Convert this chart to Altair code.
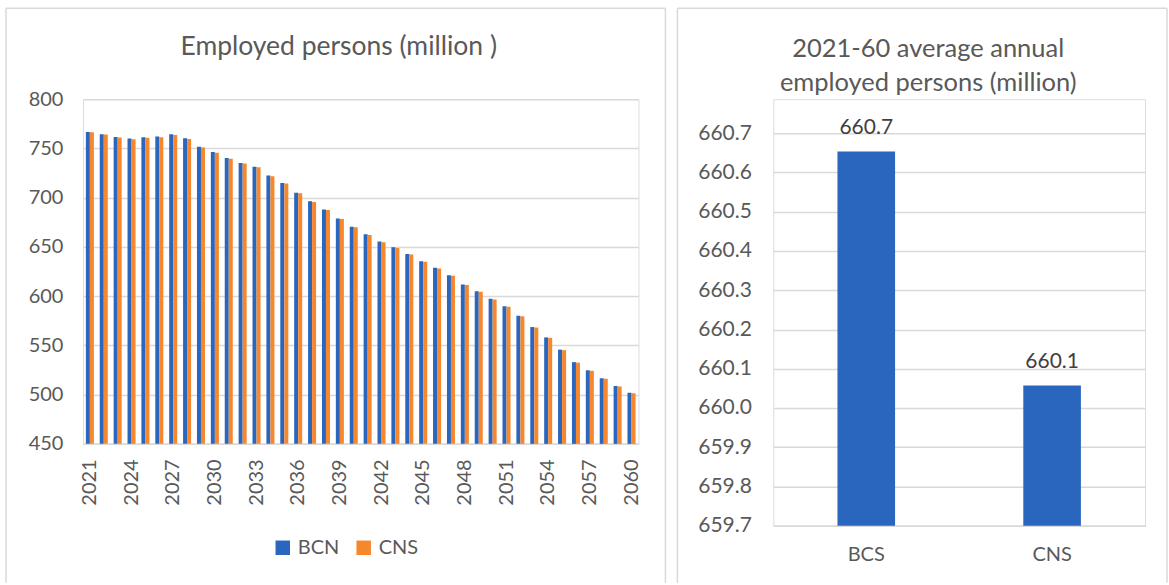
import altair as alt
import pandas as pd

# Employed persons per year, two projections (million)
years = list(range(2021, 2061))
bcn = [766.7, 764.4, 761.7, 760.0, 761.4, 762.0, 764.4, 760.4, 751.6, 746.3,
       740.2, 735.2, 731.5, 722.4, 715.0, 705.0, 696.3, 688.0, 678.8, 670.5,
       662.8, 655.4, 649.6, 642.9, 635.4, 628.7, 621.2, 611.8, 605.0, 597.3,
       589.8, 580.0, 568.6, 558.1, 545.7, 533.0, 524.7, 516.6, 508.8, 501.9]
cns = [766.4, 764.0, 761.2, 759.4, 760.7, 761.3, 763.6, 759.6, 750.9, 745.6,
       739.5, 734.6, 730.9, 721.7, 714.3, 704.4, 695.7, 687.4, 678.2, 669.9,
       662.2, 654.8, 649.0, 642.3, 634.8, 628.1, 620.6, 611.2, 604.4, 596.7,
       589.3, 579.5, 568.1, 557.6, 545.2, 532.5, 524.2, 516.1, 508.3, 501.4]
series_names = ["BCN", "CNS"]
year_ticks = list(range(2021, 2061, 3))

# 2021-60 average annual employed persons (million)
avg_labels = ["BCS", "CNS"]
avg_values = [660.653, 660.057]

left_title = "Employed persons (million )"
right_title = ["2021-60 average annual", "employed persons (million)"]

BLUE = "#2A65BE"
ORANGE = "#F7872D"
GRID = "#D9D9D9"
TEXT = "#595959"
FONT = "Lato"

yearly = pd.DataFrame({
    "year": years * 2,
    "series": ["BCN"] * len(years) + ["CNS"] * len(years),
    "value": bcn + cns,
})
averages = pd.DataFrame({"scenario": avg_labels, "value": avg_values})
frame = alt.Data(values=[{}])

TOP, BOTTOM = -91, 484


def panel_frame(x0, x1):
    """Open outline (top, left, right edges) around a panel, relative to its plot area."""
    style = dict(color=GRID, strokeWidth=1.5)
    top = alt.Chart(frame).mark_rule(**style).encode(
        x=alt.value(x0), x2=alt.value(x1), y=alt.value(TOP))
    left_edge = alt.Chart(frame).mark_rule(**style).encode(
        x=alt.value(x0), y=alt.value(TOP), y2=alt.value(BOTTOM))
    right_edge = alt.Chart(frame).mark_rule(**style).encode(
        x=alt.value(x1), y=alt.value(TOP), y2=alt.value(BOTTOM))
    return [top, left_edge, right_edge]


def heading(text, x, y, size):
    return alt.Chart(frame).mark_text(
        text=text, fontSize=size, font=FONT, color=TEXT, align="center", baseline="middle"
    ).encode(x=alt.value(x), y=alt.value(y))


# ---- left panel: yearly grouped bars ----
left_w, left_h = 556, 345
left_bars = alt.Chart(yearly).mark_bar(size=4).encode(
    x=alt.X("year:O", title=None,
            scale=alt.Scale(paddingInner=0.42, paddingOuter=0.21),
            axis=alt.Axis(values=year_ticks, labelAngle=270, labelAlign="right",
                          labelBaseline="middle", labelFontSize=20, labelColor=TEXT,
                          labelFont=FONT, labelPadding=15, ticks=False,
                          domainColor=GRID, domainWidth=1.5, grid=False)),
    xOffset=alt.XOffset("series:N", scale=alt.Scale(domain=series_names, paddingInner=0, paddingOuter=0)),
    y=alt.Y("value:Q", title=None,
            scale=alt.Scale(domain=[450, 800], zero=False, nice=False),
            axis=alt.Axis(values=list(range(450, 801, 50)), labelFontSize=20,
                          labelColor=TEXT, labelFont=FONT, labelPadding=20,
                          ticks=False, domain=False, gridColor=GRID, gridWidth=1.5)),
    y2=alt.Y2(datum=450),
    color=alt.Color("series:N", title=None,
                    scale=alt.Scale(domain=series_names, range=[BLUE, ORANGE]),
                    legend=alt.Legend(orient="none", legendX=190, legendY=439,
                                      direction="horizontal", symbolType="square",
                                      symbolSize=210, symbolStrokeWidth=0,
                                      labelFontSize=20, labelColor=TEXT, labelFont=FONT,
                                      columnPadding=14, labelOffset=5)),
)
left = alt.layer(
    *panel_frame(-77, 583), heading(left_title, 256, -52, 26.5), left_bars
).properties(width=left_w, height=left_h)

# ---- right panel: averages ----
right_w, right_h = 372, 427
yscale = alt.Scale(domain=[659.7, 660.7], range=[right_h, 34], zero=False, nice=False)
right_base = alt.Chart(averages).encode(
    x=alt.X("scenario:N", title=None, sort=avg_labels,
            scale=alt.Scale(paddingInner=0.69, paddingOuter=0.345),
            axis=alt.Axis(labelAngle=0, labelFontSize=20, labelColor=TEXT,
                          labelFont=FONT, labelPadding=19, ticks=False,
                          domainColor=GRID, domainWidth=1.5)),
)
right_bars = right_base.mark_bar(color=BLUE).encode(
    y=alt.Y("value:Q", title=None, scale=yscale,
            axis=alt.Axis(values=[round(659.7 + 0.1 * i, 1) for i in range(11)],
                          format=".1f", labelFontSize=21, labelColor=TEXT,
                          labelFont=FONT, labelPadding=22, ticks=False,
                          domain=False, gridColor=GRID, gridWidth=1.5)),
    y2=alt.Y2(datum=659.7),
)
right_text = right_base.mark_text(baseline="bottom", dy=-14, fontSize=21,
                                  font=FONT, color="#404040").encode(
    y=alt.Y("value:Q", scale=yscale),
    text=alt.Text("value:Q", format=".1f"),
)
right = alt.layer(
    *panel_frame(-96, 394),
    heading(right_title[0], 155, -50, 25.5),
    heading(right_title[1], 155, -16, 25.5),
    right_bars, right_text,
).properties(width=right_w, height=right_h)

chart = alt.hconcat(left, right, spacing=135, bounds="flush").properties(
    padding={"left": 4, "top": 6, "right": 0, "bottom": 0},
    background="white",
).configure_view(strokeWidth=0).configure(font=FONT)

chart.save("out.html", embed_options={"renderer": "svg", "actions": False})
